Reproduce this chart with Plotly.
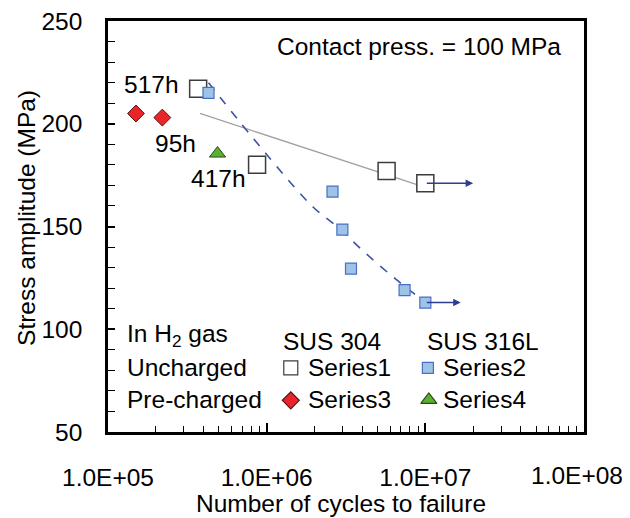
import numpy as np
import plotly.graph_objects as go

FONT = "Liberation Sans, Arial, sans-serif"
FS = 24.5

# SUS 304 uncharged (open squares)
s1_cycles = [3.7e5, 8.7e5, 5.7e6, 1.0e7]
s1_stress = [217, 180, 177, 171]
# SUS 316L uncharged (blue squares)
s2_cycles = [4.3e5, 2.6e6, 3.0e6, 3.4e6, 7.4e6, 1.0e7]
s2_stress = [215, 167, 148.5, 129.5, 119, 113]
# SUS 304 pre-charged (red diamonds)
s3_cycles = [1.5e5, 2.2e5]
s3_stress = [205, 203]
# SUS 316L pre-charged (green triangle)
s4_cycles = [4.9e5]
s4_stress = [185.5]

# trend lines
t1_cycles = [3.8e5, 1.0e7]
t1_stress = [205, 169]
t2_cycles = [4.3e5, 1.0e6, 1.96e6, 2.77e6, 4.2e6, 6.6e6, 1.0e7]
t2_stress = [220, 185, 159.5, 150, 137, 124, 113]

# run-outs (arrows)
runout_from = [1.0e7, 1.0e7]
runout_to = [2.0e7, 1.67e7]
runout_stress = [171, 113]

# charging-time labels
hour_labels = ["517h", "95h", "417h"]
hour_cycles = [1.89e5, 2.68e5, 5.0e5]
hour_stress = [219, 190.5, 173.5]

x_ticks = [1e5, 1e6, 1e7, 1e8]
# last label is pulled inward like the original, so it is drawn separately
x_ticktext = ["1.0E+05", "1.0E+06", "1.0E+07", ""]
last_xlabel = "1.0E+08"

NAVY = "#2E3D8F"

fig = go.Figure()

fig.add_trace(go.Scatter(x=t1_cycles, y=t1_stress, mode="lines",
                         line=dict(color="#A0A0A0", width=1.3)))
fig.add_trace(go.Scatter(x=t2_cycles, y=t2_stress, mode="lines", line_shape="spline",
                         line=dict(color="#3A52A8", width=1.6, dash="dash")))

fig.add_trace(go.Scatter(x=s1_cycles, y=s1_stress, mode="markers",
                         marker=dict(symbol="square", size=17, color="white",
                                     line=dict(color="#3C3C3C", width=1.5))))
fig.add_trace(go.Scatter(x=s2_cycles, y=s2_stress, mode="markers",
                         marker=dict(symbol="square", size=11, color="#9DC3E6",
                                     line=dict(color="#4A6FC4", width=1.2))))
fig.add_trace(go.Scatter(x=s3_cycles, y=s3_stress, mode="markers",
                         marker=dict(symbol="diamond", size=13, color="#E8262A",
                                     line=dict(color="#5A1010", width=1))))
fig.add_trace(go.Scatter(x=s4_cycles, y=s4_stress, mode="markers",
                         marker=dict(symbol="triangle-up", size=14, color="#5BB031",
                                     line=dict(color="#2E4A1A", width=1))))

# legend glyphs drawn on an overlay axis in plot fractions
leg_x = [0.384, 0.672, 0.384, 0.674]
leg_y = [0.156, 0.156, 0.077, 0.078]
leg_sym = ["square", "square", "diamond", "triangle-up"]
leg_size = [14, 11, 13, 14]
leg_fill = ["white", "#9DC3E6", "#E8262A", "#5BB031"]
leg_line = ["#3C3C3C", "#4A6FC4", "#5A1010", "#2E4A1A"]
for i in range(4):
    fig.add_trace(go.Scatter(x=[leg_x[i]], y=[leg_y[i]], xaxis="x2", yaxis="y2", mode="markers",
                             marker=dict(symbol=leg_sym[i], size=leg_size[i], color=leg_fill[i],
                                         line=dict(color=leg_line[i], width=1.2))))

for a, b, s in zip(runout_from, runout_to, runout_stress):
    fig.add_annotation(x=np.log10(b), y=s, ax=np.log10(a), ay=s, xref="x", yref="y",
                       axref="x", ayref="y", showarrow=True, arrowhead=2, arrowsize=1,
                       arrowwidth=1.5, arrowcolor=NAVY, text="")

for t, c, s in zip(hour_labels, hour_cycles, hour_stress):
    fig.add_annotation(x=np.log10(c), y=s, text=t, showarrow=False, font=dict(size=FS),
                       xanchor="center", yanchor="middle")

texts = [
    ("Contact press. = 100 MPa", 0.350, 0.937),
    ("In H<sub>2</sub> gas", 0.035, 0.236),
    ("Uncharged", 0.035, 0.156),
    ("Pre-charged", 0.035, 0.078),
    ("SUS 304", 0.363, 0.219),
    ("SUS 316L", 0.665, 0.219),
    ("Series1", 0.415, 0.156),
    ("Series2", 0.699, 0.156),
    ("Series3", 0.415, 0.078),
    ("Series4", 0.699, 0.078),
]
for t, px_, py_ in texts:
    fig.add_annotation(x=px_, y=py_, xref="paper", yref="paper", text=t, showarrow=False,
                       xanchor="left", yanchor="middle", font=dict(size=FS))

fig.add_annotation(x=0.985, y=-0.106, xref="paper", yref="paper", showarrow=False,
                   text=last_xlabel, font=dict(size=FS), xanchor="center", yanchor="middle")

# axis titles
fig.add_annotation(x=0.489, y=-0.173, xref="paper", yref="paper", showarrow=False,
                   text="Number of cycles to failure", font=dict(size=FS),
                   xanchor="center", yanchor="middle")
fig.add_annotation(x=-0.170, y=0.521, xref="paper", yref="paper", showarrow=False,
                   text="Stress amplitude (MPa)", textangle=-90, font=dict(size=FS),
                   xanchor="center", yanchor="middle")

# page body has an 8px margin, so the figure is 8px smaller than the window
fig.update_layout(
    width=622, height=510,
    margin=dict(l=100, r=46, t=13, b=86, autoexpand=False),
    paper_bgcolor="white", plot_bgcolor="white",
    showlegend=False,
    font=dict(family=FONT, size=FS, color="black"),
    xaxis=dict(type="log", range=[5, 8], tickvals=x_ticks, ticktext=x_ticktext,
               ticks="inside", ticklen=9, tickwidth=1.5, tickcolor="black",
               minor=dict(ticks="inside", ticklen=6, tickwidth=1.2, tickcolor="black",
                          tickvals=[m * 10 ** d for d in range(5, 8) for m in range(2, 10)]),
               showline=True, linecolor="black", linewidth=2.5, mirror=True,
               showgrid=False, zeroline=False, ticklabelstandoff=22,
               ticklabeloverflow="allow", tickfont=dict(size=FS)),
    yaxis=dict(range=[50, 250], dtick=50, ticks="inside", ticklen=7, tickwidth=1.5,
               tickcolor="black",
               minor=dict(ticks="inside", ticklen=7, tickwidth=1.2, tickcolor="black", dtick=10),
               showline=True, linecolor="black", linewidth=2.5, mirror=True,
               showgrid=False, zeroline=False, ticklabelstandoff=18,
               ticklabeloverflow="allow", tickfont=dict(size=FS)),
    xaxis2=dict(range=[0, 1], overlaying="x", visible=False),
    yaxis2=dict(range=[0, 1], overlaying="y", visible=False),
)

fig.write_html("out.html")
